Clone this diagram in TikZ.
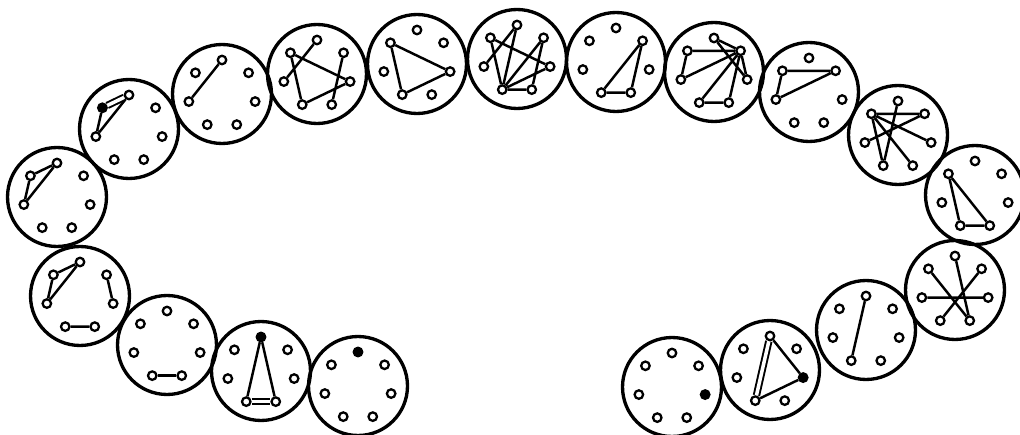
\documentclass[tikz,border=0pt]{standalone}
\usepackage{tikz}

% one disc with seven vertices; #3 = index of the black vertex (-1: none)
\newcommand{\ring}[3]{%
  \node[disc] (#1) at (#2) {};
  \foreach \k in {0,...,6}{%
    \ifnum\k=#3 \def\vf{black}\else\def\vf{white}\fi
    \node[vtx,fill=\vf] (#1-\k) at ([shift={(#1.center)}]{\k*360/7-90}:34) {};
  }%
}

\begin{document}
\begin{tikzpicture}[
  x=0.02cm, y=-0.02cm,
  disc/.style={draw,circle,line width=1.9pt,minimum size=1.98cm,inner sep=0pt},
  vtx/.style={draw,circle,line width=1.3pt,minimum size=0.17cm,inner sep=0pt},
  edge/.style={line width=1.4pt},
  twin/.style={double,line width=1.1pt,double distance=2pt}
]
\useasboundingbox (0,0) rectangle (1020,435);

% left arm, from the lower end upwards
\ring{a}{358,386}{0}
\ring{b}{261,371}{0}
\ring{c}{167,345}{-1}
\ring{d}{80,296}{-1}
\ring{e}{57,197}{-1}
\ring{f}{129,129}{6}
\ring{g}{222,94}{-1}
\ring{h}{317,74}{-1}
\ring{i}{417,64}{-1}
\ring{j}{517,59}{-1}
\ring{k}{616,62}{-1}
\ring{l}{714,72}{-1}
% right arm
\ring{m}{809,92}{-1}
\ring{n}{898,135}{-1}
\ring{o}{975,195}{-1}
\ring{p}{955,290}{-1}
\ring{q}{866,330}{-1}
\ring{r}{770,370}{2}
\ring{s}{672,387}{2}

% edges
\draw[edge] (b-0) -- (b-4) (b-0) -- (b-3);
\draw[twin] (b-4) -- (b-3);
\draw[edge] (c-4) -- (c-3);
\draw[edge] (d-0) -- (d-6) -- (d-5) -- (d-0) (d-1) -- (d-2) (d-4) -- (d-3);
\draw[edge] (e-0) -- (e-6) -- (e-5) -- (e-0);
\draw[edge] (f-6) -- (f-5) -- (f-0);
\draw[twin] (f-6) -- (f-0);
\draw[edge] (g-5) -- (g-0);
\draw[edge] (h-0) -- (h-5) (h-6) -- (h-4) -- (h-2) -- (h-6) (h-1) -- (h-3);
\draw[edge] (i-6) -- (i-2) -- (i-4) -- (i-6);
\draw[edge] (j-5) -- (j-0) (j-6) -- (j-2) (j-4) -- (j-6) (j-4) -- (j-0)
  (j-4) -- (j-1) (j-4) -- (j-2) (j-4) -- (j-3) (j-1) -- (j-3);
\draw[edge] (k-1) -- (k-3) -- (k-4) -- (k-1);
\draw[edge] (l-6) -- (l-1) (l-6) -- (l-5) -- (l-1) (l-0) -- (l-1) (l-0) -- (l-2)
  (l-1) -- (l-2) (l-1) -- (l-4) (l-1) -- (l-3) (l-4) -- (l-3);
\draw[edge] (m-6) -- (m-1) -- (m-5) -- (m-6);
\draw[edge] (n-6) -- (n-1) (n-6) -- (n-2) (n-6) -- (n-3) (n-6) -- (n-4)
  (n-5) -- (n-1) (n-0) -- (n-4);
\draw[edge] (o-6) -- (o-3) -- (o-4) -- (o-6);
\draw[edge] (p-6) -- (p-3) (p-1) -- (p-4) (p-5) -- (p-2) (p-0) -- (p-3);
\draw[edge] (q-0) -- (q-4);
\draw[edge] (r-0) -- (r-2) -- (r-4);
\draw[twin] (r-0) -- (r-4);
\end{tikzpicture}
\end{document}
